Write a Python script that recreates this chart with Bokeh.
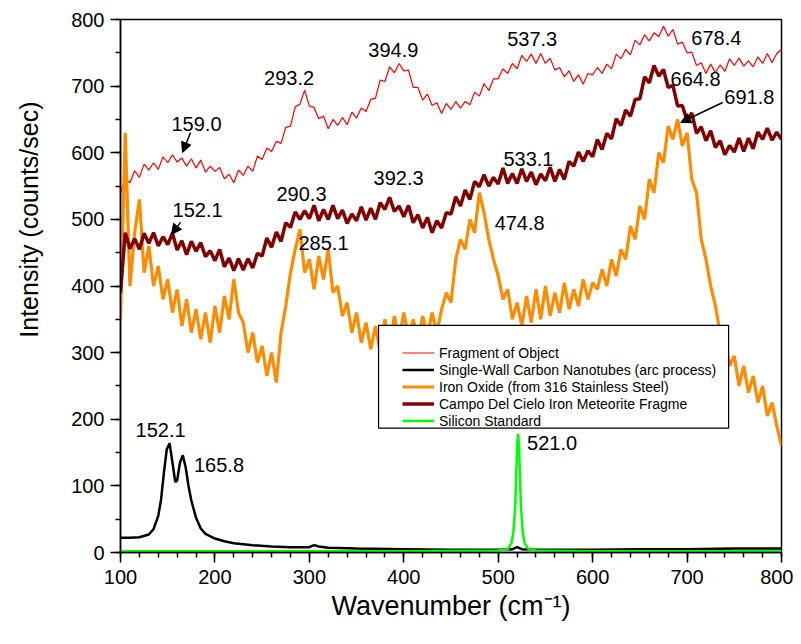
from bokeh.plotting import figure
from bokeh.models import (Range1d, SingleIntervalTicker, Legend, LegendItem, Arrow,
                          NormalHead, Title, BoxAnnotation, ColumnDataSource)
from bokeh.core.properties import value
from bokeh.embed import file_html
from bokeh.resources import INLINE

FONT = "Liberation Sans"

# ---------------- data ----------------
x5 = list(range(100, 801, 5))

fragment = [540, 561, 555, 573, 563, 583, 574, 585, 575, 594, 585, 597, 586, 592, 580, 591, 577, 589, 571, 580,
            572, 578, 561, 568, 555, 574, 566, 580, 572, 595, 590, 607, 602, 617, 614, 638, 640, 669, 673, 694,
            670, 668, 651, 655, 636, 650, 641, 653, 642, 661, 652, 667, 662, 680, 682, 709, 707, 729, 720, 734,
            723, 724, 698, 698, 679, 688, 671, 675, 659, 674, 665, 677, 667, 677, 672, 691, 685, 704, 693, 711,
            711, 726, 719, 734, 726, 746, 737, 748, 734, 749, 734, 742, 724, 728, 714, 723, 707, 717, 703, 719,
            717, 728, 719, 733, 726, 748, 741, 755, 747, 769, 762, 777, 768, 780, 774, 790, 775, 785, 763, 766,
            750, 751, 731, 735, 719, 733, 720, 732, 722, 741, 731, 742, 730, 738, 729, 744, 734, 749, 735, 749,
            755]

campo = [390, 480, 456, 471, 455, 479, 464, 480, 460, 474, 462, 479, 454, 468, 447, 467, 452, 465, 444, 453,
         438, 455, 429, 442, 423, 441, 424, 441, 427, 449, 445, 472, 458, 481, 467, 495, 488, 511, 500, 513,
         501, 521, 498, 515, 500, 521, 501, 514, 494, 508, 498, 519, 499, 517, 500, 525, 515, 533, 512, 520,
         504, 521, 495, 507, 487, 503, 480, 498, 487, 510, 508, 534, 520, 544, 530, 557, 549, 567, 550, 563,
         553, 577, 554, 569, 554, 576, 557, 571, 552, 568, 558, 578, 557, 575, 560, 587, 580, 601, 587, 603,
         594, 620, 605, 629, 621, 651, 641, 664, 655, 680, 681, 714, 705, 731, 715, 725, 698, 701, 670, 671,
         648, 660, 629, 639, 618, 633, 608, 618, 597, 611, 601, 622, 602, 622, 606, 631, 620, 637, 619, 631,
         620]

iron_oxide = [350, 630, 400, 480, 530, 420, 460, 400, 430, 380, 410, 360, 395, 340, 380, 330, 365, 320, 360, 315,
              370, 330, 385, 350, 410, 360, 345, 300, 330, 285, 310, 265, 300, 255, 330, 370, 420, 455, 485, 420,
              440, 395, 445, 410, 455, 390, 400, 355, 375, 330, 360, 315, 345, 305, 340, 300, 350, 310, 355, 320,
              360, 325, 350, 320, 355, 325, 360, 330, 365, 390, 375, 440, 470, 455, 500, 480, 540, 510, 470, 440,
              415, 380, 395, 350, 375, 340, 385, 345, 395, 350, 400, 355, 390, 360, 405, 365, 395, 370, 410, 380,
              405, 395, 425, 400, 440, 415, 455, 440, 490, 470, 520, 500, 560, 540, 600, 585, 640, 620, 650, 610,
              630, 560, 540, 470, 440, 400, 370, 330, 320, 280, 295, 250, 280, 240, 265, 225, 250, 205, 225, 190,
              160]

swnt_x = [100, 110, 120, 130, 135, 140, 143, 146, 149, 152, 155, 158, 160, 163, 166, 169, 172, 175, 180, 185,
          190, 200, 210, 220, 240, 260, 280, 300, 305, 310, 320, 350, 400, 450, 500, 515, 520, 525, 540, 600,
          650, 700, 750, 800]
swnt_y = [22, 22, 23, 27, 35, 55, 80, 120, 155, 164, 135, 106, 108, 135, 146, 128, 100, 78, 52, 36,
          28, 21, 17, 14, 11, 9, 8, 8, 11, 9, 7, 6, 5, 4, 4, 5, 8, 5, 4, 4,
          5, 5, 6, 6]

si_x = [100, 200, 300, 400, 500, 510, 514, 516, 518, 519, 520, 521, 522, 523, 524, 526, 528, 532, 540, 600, 700, 800]
si_y = [2, 2, 2, 2, 3, 5, 14, 30, 70, 115, 160, 178, 160, 115, 70, 30, 14, 5, 3, 2, 2, 2]

series_names = ["Fragment of Object",
                "Single-Wall Carbon Nanotubes (arc process)",
                "Iron Oxide (from 316 Stainless Steel)",
                "Campo Del Cielo Iron Meteorite Fragme",
                "Silicon Standard"]

peak_text = ["159.0", "293.2", "394.9", "537.3", "678.4", "664.8", "691.8", "533.1", "392.3",
             "290.3", "152.1", "285.1", "474.8", "152.1", "165.8", "521.0"]
peak_x = [180.5, 278.5, 389, 536, 731, 709, 766, 532, 394.5, 291.7, 181.6, 315, 522.7, 142.4, 204.3, 557]
peak_y = [643, 712, 754, 771, 772, 711, 684, 591, 562, 538, 514, 465, 495, 184, 131, 165]

arrow_x0 = [174.2, 163.6, 737.7]
arrow_y0 = [630.4, 495.5, 675.4]
arrow_x1 = [165.7, 154.0, 693.2]
arrow_y1 = [600.4, 477.5, 645.4]

# ---------------- figure ----------------
p = figure(width=793, height=636, x_range=Range1d(100, 800), y_range=Range1d(0, 800),
           output_backend="svg", toolbar_location=None,
           min_border_left=120, min_border_top=19, min_border_right=12, min_border_bottom=84)
p.background_fill_color = "white"
p.border_fill_color = "white"
p.xgrid.visible = False
p.ygrid.visible = False
p.outline_line_color = "black"
p.outline_line_width = 1.5
p.outline_line_alpha = 1

p.xaxis.ticker = SingleIntervalTicker(interval=100, num_minor_ticks=5)
p.yaxis.ticker = SingleIntervalTicker(interval=100, num_minor_ticks=2)
for ax in (p.xaxis[0], p.yaxis[0]):
    ax.axis_line_color = "black"
    ax.axis_line_width = 1.5
    ax.major_tick_line_color = "black"
    ax.minor_tick_line_color = "black"
    ax.major_tick_line_width = 1.5
    ax.minor_tick_line_width = 1.5
    ax.major_tick_in = 0
    ax.major_tick_out = 10
    ax.minor_tick_in = 0
    ax.minor_tick_out = 5
    ax.major_label_text_font = FONT
    ax.major_label_text_font_size = "20px"
    ax.major_label_text_color = "black"
p.yaxis.major_label_standoff = 6
p.xaxis.major_label_standoff = 7

p.xaxis.axis_label = "Wavenumber (cm\u207b\u00b9)"
p.xaxis.axis_label_text_font = FONT
p.xaxis.axis_label_text_font_size = "27px"
p.xaxis.axis_label_text_font_style = "normal"
p.xaxis.axis_label_text_color = "black"
p.xaxis.axis_label_standoff = 4

# invisible spacer between the y tick labels and the y title
p.yaxis.axis_label = "\u00a0"
p.yaxis.axis_label_text_font_size = "1px"
p.yaxis.axis_label_standoff = 8

# y axis title, placed towards the top as in the reference
p.add_layout(Title(text="Intensity (counts/sec)", align="right", offset=82, standoff=25,
                   vertical_align="middle", text_font=FONT, text_font_size="25px",
                   text_font_style="normal", text_color="black"), "left")

# ---------------- lines ----------------
r_frag = p.line(x5, fragment, line_color="#FF0000", line_width=1.2)
r_swnt = p.line(swnt_x, swnt_y, line_color="black", line_width=2.5)
r_iron = p.line(x5, iron_oxide, line_color="#FF8C00", line_width=3.2)
r_campo = p.line(x5, campo, line_color="#800000", line_width=3.5)
r_si = p.line(si_x, si_y, line_color="#00FF00", line_width=2.5)

# ---------------- peak labels and arrows ----------------
src = ColumnDataSource(dict(x=peak_x, y=peak_y, t=peak_text))
p.text(x="x", y="y", text="t", source=src, text_font=value(FONT), text_font_size="20px",
       text_color="black", text_align="center", text_baseline="middle")

for x0, y0, x1, y1 in zip(arrow_x0, arrow_y0, arrow_x1, arrow_y1):
    p.add_layout(Arrow(x_start=x0, y_start=y0, x_end=x1, y_end=y1, line_color="black", line_width=1.5,
                       end=NormalHead(size=10, fill_color="black", line_color="black")))

# ---------------- legend ----------------
p.add_layout(BoxAnnotation(left=373.3, right=744, bottom=186.7, top=341, fill_color="white", fill_alpha=1,
                           line_color="black", line_width=1.2, line_alpha=1))
legend = Legend(items=[LegendItem(label=n, renderers=[r]) for n, r in
                       zip(series_names, [r_frag, r_swnt, r_iron, r_campo, r_si])],
                location=(282, 123), glyph_width=32, glyph_height=17, label_height=17, spacing=0,
                padding=0, margin=0, label_standoff=5, border_line_alpha=0, background_fill_alpha=0,
                label_text_font=FONT, label_text_font_size="14px", label_text_color="black")
p.add_layout(legend, "center")

open("out.html", "w").write(file_html(p, INLINE))
